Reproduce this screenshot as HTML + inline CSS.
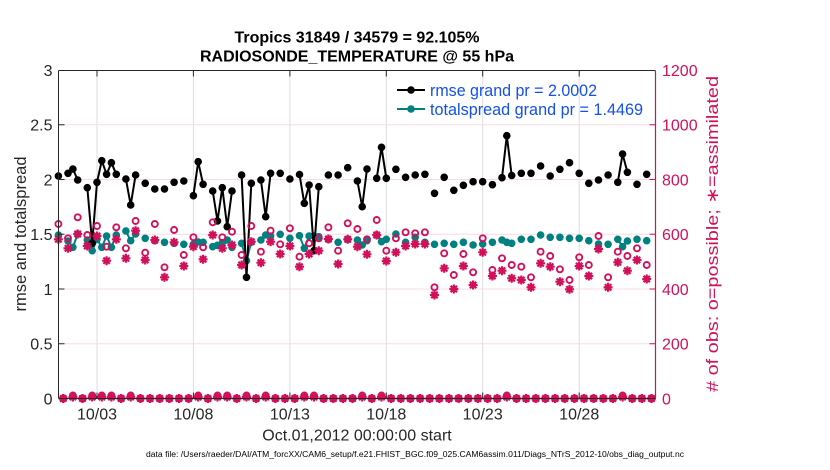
<!DOCTYPE html>
<html><head><meta charset="utf-8"><style>
html,body{margin:0;padding:0;background:#fff;}
svg{display:block;font-family:"Liberation Sans",Arial,sans-serif;}
</style></head><body>
<svg width="830" height="470" viewBox="0 0 830 470" xmlns="http://www.w3.org/2000/svg">
<rect width="830" height="470" fill="#fff"/>
<!-- gridlines -->
<g stroke="#dedede" stroke-width="1">
<line x1="97" y1="70" x2="97" y2="398.5"/><line x1="193.4" y1="70" x2="193.4" y2="398.5"/><line x1="289.9" y1="70" x2="289.9" y2="398.5"/><line x1="386.3" y1="70" x2="386.3" y2="398.5"/><line x1="482.7" y1="70" x2="482.7" y2="398.5"/><line x1="579.2" y1="70" x2="579.2" y2="398.5"/>
</g>
<g stroke="#f8dbe6" stroke-width="1">
<line x1="58.5" y1="124.75" x2="655.5" y2="124.75"/><line x1="58.5" y1="179.5" x2="655.5" y2="179.5"/><line x1="58.5" y1="234.25" x2="655.5" y2="234.25"/><line x1="58.5" y1="289" x2="655.5" y2="289"/><line x1="58.5" y1="343.75" x2="655.5" y2="343.75"/>
</g>

<!-- teal lines -->
<g fill="none" stroke="#008080" stroke-width="2" stroke-linejoin="round">
<polyline points="68,241 72.9,247.3 77.7,234"/>
<polyline points="87.3,240 92.2,250.7 97,239.3 101.8,247.3 106.6,236 111.4,247.3 116.3,235"/>
<polyline points="125.9,231 130.7,240.7 135.6,234"/>
<polyline points="193.4,244.3 198.2,242 203.1,242.3"/>
<polyline points="212.7,246.7 217.5,245.3 222.3,242.7 227.2,240 232,247.3"/>
<polyline points="241.6,243.3 246.5,260.7 251.3,242"/>
<polyline points="260.9,240 265.7,235 270.6,236"/>
<polyline points="299.5,235.7 304.3,248.3 309.1,236 314,236 318.8,236.7"/>
<polyline points="357.4,240 362.2,245 367,240.7"/>
<polyline points="376.7,235 381.5,241.7 386.3,239.3"/>
<polyline points="502,240 506.8,242.3 511.7,243.3"/>
<polyline points="617.8,239.3 622.6,246.7 627.4,241"/>
</g>
<path fill="none" stroke="#008080" stroke-width="7.6" stroke-linecap="round" d="M58.4 235h0M68 241h0M72.9 247.3h0M77.7 234h0M87.3 240h0M92.2 250.7h0M97 239.3h0M101.8 247.3h0M106.6 236h0M111.4 247.3h0M116.3 235h0M125.9 231h0M130.7 240.7h0M135.6 234h0M145.2 238.3h0M154.8 240.7h0M164.5 242.3h0M174.1 243.3h0M183.8 244.3h0M193.4 244.3h0M198.2 242h0M203.1 242.3h0M212.7 246.7h0M217.5 245.3h0M222.3 242.7h0M227.2 240h0M232 247.3h0M241.6 243.3h0M246.5 260.7h0M251.3 242h0M260.9 240h0M265.7 235h0M270.6 236h0M280.2 234.3h0M289.9 238.3h0M299.5 235.7h0M304.3 248.3h0M309.1 236h0M314 236h0M318.8 236.7h0M328.4 239.3h0M338.1 242.3h0M347.7 239.3h0M357.4 240h0M362.2 245h0M367 240.7h0M376.7 235h0M381.5 241.7h0M386.3 239.3h0M395.9 234h0M405.6 242.3h0M415.2 237.3h0M424.9 242.3h0M434.5 244.3h0M444.2 243.3h0M453.8 244.3h0M463.4 242.3h0M473.1 245h0M482.7 244h0M492.4 242.3h0M502 240h0M506.8 242.3h0M511.7 243.3h0M521.3 239.3h0M531 239.3h0M540.6 235h0M550.2 237.3h0M559.9 237.3h0M569.5 238.3h0M579.2 238.3h0M588.8 240.7h0M598.5 244h0M608.1 244.3h0M617.8 239.3h0M622.6 246.7h0M627.4 241h0M637 239.3h0M646.7 240.7h0"/>

<!-- black lines -->
<g fill="none" stroke="#000" stroke-width="2" stroke-linejoin="round">
<polyline points="68,173.3 72.9,169 77.7,180"/>
<polyline points="87.3,187.7 92.2,243.3 97,182.3 101.8,160.7 106.6,174.3 111.4,162.7 116.3,174.3"/>
<polyline points="125.9,179 130.7,205 135.6,175"/>
<polyline points="193.4,195.7 198.2,161.7 203.1,184.3"/>
<polyline points="212.7,191 217.5,221 222.3,187.7 227.2,226.7 232,191"/>
<polyline points="241.6,175 246.5,277.3 251.3,183.3"/>
<polyline points="260.9,180 265.7,216.7 270.6,173.3"/>
<polyline points="299.5,174.5 304.3,203.3 309.1,185 314,250.7 318.8,186.7"/>
<polyline points="357.4,181 362.2,206.7 367,169"/>
<polyline points="376.7,178.3 381.5,147.3 386.3,178.3"/>
<polyline points="502,177.7 506.8,135.7 511.7,175.5"/>
<polyline points="617.8,182.3 622.6,154 627.4,172.3"/>
</g>
<path fill="none" stroke="#000" stroke-width="7.6" stroke-linecap="round" d="M58.4 176h0M68 173.3h0M72.9 169h0M77.7 180h0M87.3 187.7h0M92.2 243.3h0M97 182.3h0M101.8 160.7h0M106.6 174.3h0M111.4 162.7h0M116.3 174.3h0M125.9 179h0M130.7 205h0M135.6 175h0M145.2 183.3h0M154.8 189h0M164.5 189h0M174.1 182.3h0M183.8 181h0M193.4 195.7h0M198.2 161.7h0M203.1 184.3h0M212.7 191h0M217.5 221h0M222.3 187.7h0M227.2 226.7h0M232 191h0M241.6 175h0M246.5 277.3h0M251.3 183.3h0M260.9 180h0M265.7 216.7h0M270.6 173.3h0M280.2 173.3h0M289.9 179h0M299.5 174.5h0M304.3 203.3h0M309.1 185h0M314 250.7h0M318.8 186.7h0M328.4 175h0M338.1 175h0M347.7 167.7h0M357.4 181h0M362.2 206.7h0M367 169h0M376.7 178.3h0M381.5 147.3h0M386.3 178.3h0M395.9 169.3h0M405.6 177.3h0M415.2 175h0M424.9 174.3h0M434.5 193.3h0M444.2 177.3h0M453.8 190.3h0M463.4 185.3h0M473.1 181.7h0M482.7 181.7h0M492.4 184.7h0M502 177.7h0M506.8 135.7h0M511.7 175.5h0M521.3 173.3h0M531 173.3h0M540.6 166h0M550.2 176h0M559.9 169.3h0M569.5 162.7h0M579.2 173.3h0M588.8 183.3h0M598.5 180h0M608.1 175h0M617.8 182.3h0M622.6 154h0M627.4 172.3h0M637 184.3h0M646.7 174.3h0"/>

<!-- pink circles (possible) -->
<g fill="none" stroke="#d1105a" stroke-width="1.9">
<circle cx="58.4" cy="224" r="3"/><circle cx="68" cy="238.3" r="3"/><circle cx="77.7" cy="217.3" r="3"/><circle cx="87.3" cy="235" r="3"/><circle cx="97" cy="226" r="3"/><circle cx="106.6" cy="246.7" r="3"/><circle cx="116.3" cy="227.3" r="3"/><circle cx="125.9" cy="248.3" r="3"/><circle cx="135.6" cy="221" r="3"/><circle cx="145.2" cy="252.7" r="3"/><circle cx="154.8" cy="224" r="3"/><circle cx="164.5" cy="267.3" r="3"/><circle cx="174.1" cy="230" r="3"/><circle cx="183.8" cy="255" r="3"/><circle cx="193.4" cy="237.3" r="3"/><circle cx="203.1" cy="247.3" r="3"/><circle cx="212.7" cy="222.3" r="3"/><circle cx="222.3" cy="237.3" r="3"/><circle cx="232" cy="231.7" r="3"/><circle cx="241.6" cy="255" r="3"/><circle cx="251.3" cy="226" r="3"/><circle cx="260.9" cy="251.7" r="3"/><circle cx="270.6" cy="230.7" r="3"/><circle cx="280.2" cy="244.3" r="3"/><circle cx="289.9" cy="228.3" r="3"/><circle cx="299.5" cy="256.7" r="3"/><circle cx="309.1" cy="243.3" r="3"/><circle cx="318.8" cy="238.3" r="3"/><circle cx="328.4" cy="227.3" r="3"/><circle cx="338.1" cy="250.7" r="3"/><circle cx="347.7" cy="223.3" r="3"/><circle cx="357.4" cy="229" r="3"/><circle cx="367" cy="239.3" r="3"/><circle cx="376.7" cy="220" r="3"/><circle cx="386.3" cy="250.7" r="3"/><circle cx="395.9" cy="238.3" r="3"/><circle cx="405.6" cy="232.3" r="3"/><circle cx="415.2" cy="233.3" r="3"/><circle cx="424.9" cy="232.3" r="3"/><circle cx="434.5" cy="287.3" r="3"/><circle cx="444.2" cy="253.3" r="3"/><circle cx="453.8" cy="275" r="3"/><circle cx="463.4" cy="254" r="3"/><circle cx="473.1" cy="272.3" r="3"/><circle cx="482.7" cy="238.3" r="3"/><circle cx="492.4" cy="270" r="3"/><circle cx="502" cy="258.3" r="3"/><circle cx="511.7" cy="265" r="3"/><circle cx="521.3" cy="266.7" r="3"/><circle cx="531" cy="277.3" r="3"/><circle cx="540.6" cy="251.7" r="3"/><circle cx="550.2" cy="256" r="3"/><circle cx="559.9" cy="269.3" r="3"/><circle cx="569.5" cy="280" r="3"/><circle cx="579.2" cy="257.3" r="3"/><circle cx="588.8" cy="265" r="3"/><circle cx="598.5" cy="236" r="3"/><circle cx="608.1" cy="277.3" r="3"/><circle cx="617.8" cy="251.7" r="3"/><circle cx="627.4" cy="256" r="3"/><circle cx="637" cy="248.3" r="3"/><circle cx="646.7" cy="265" r="3"/>
<!-- bottom row circles -->
<circle cx="63.2" cy="398.5" r="3"/><circle cx="72.9" cy="395.5" r="3"/><circle cx="82.5" cy="398.5" r="3"/><circle cx="92.2" cy="395.5" r="3"/><circle cx="101.8" cy="395.5" r="3"/><circle cx="111.4" cy="395.5" r="3"/><circle cx="121.1" cy="398.5" r="3"/><circle cx="130.7" cy="395.5" r="3"/><circle cx="140.4" cy="398.5" r="3"/><circle cx="150" cy="398.5" r="3"/><circle cx="159.7" cy="398.5" r="3"/><circle cx="169.3" cy="398.5" r="3"/><circle cx="179" cy="398.5" r="3"/><circle cx="188.6" cy="398.5" r="3"/><circle cx="198.2" cy="395.5" r="3"/><circle cx="207.9" cy="398.5" r="3"/><circle cx="217.5" cy="395.5" r="3"/><circle cx="227.2" cy="395.5" r="3"/><circle cx="236.8" cy="398.5" r="3"/><circle cx="246.5" cy="395.5" r="3"/><circle cx="256.1" cy="398.5" r="3"/><circle cx="265.7" cy="395.5" r="3"/><circle cx="275.4" cy="398.5" r="3"/><circle cx="285" cy="398.5" r="3"/><circle cx="294.7" cy="398.5" r="3"/><circle cx="304.3" cy="395.5" r="3"/><circle cx="314" cy="395.5" r="3"/><circle cx="323.6" cy="398.5" r="3"/><circle cx="333.3" cy="398.5" r="3"/><circle cx="342.9" cy="398.5" r="3"/><circle cx="352.5" cy="398.5" r="3"/><circle cx="362.2" cy="395.5" r="3"/><circle cx="371.8" cy="398.5" r="3"/><circle cx="381.5" cy="395.5" r="3"/><circle cx="391.1" cy="398.5" r="3"/><circle cx="400.8" cy="398.5" r="3"/><circle cx="410.4" cy="398.5" r="3"/><circle cx="420.1" cy="398.5" r="3"/><circle cx="429.7" cy="398.5" r="3"/><circle cx="439.3" cy="398.5" r="3"/><circle cx="449" cy="398.5" r="3"/><circle cx="458.6" cy="398.5" r="3"/><circle cx="468.3" cy="398.5" r="3"/><circle cx="477.9" cy="398.5" r="3"/><circle cx="487.6" cy="398.5" r="3"/><circle cx="497.2" cy="398.5" r="3"/><circle cx="506.8" cy="395.5" r="3"/><circle cx="516.5" cy="398.5" r="3"/><circle cx="526.1" cy="398.5" r="3"/><circle cx="535.8" cy="398.5" r="3"/><circle cx="545.4" cy="398.5" r="3"/><circle cx="555.1" cy="398.5" r="3"/><circle cx="564.7" cy="398.5" r="3"/><circle cx="574.4" cy="398.5" r="3"/><circle cx="584" cy="398.5" r="3"/><circle cx="593.6" cy="398.5" r="3"/><circle cx="603.3" cy="398.5" r="3"/><circle cx="612.9" cy="398.5" r="3"/><circle cx="622.6" cy="395.5" r="3"/><circle cx="632.2" cy="398.5" r="3"/><circle cx="641.9" cy="398.5" r="3"/><circle cx="651.5" cy="398.5" r="3"/>
</g>

<!-- pink asterisks (assimilated) -->
<path fill="none" stroke="#d1105a" stroke-width="2.2" d="M58.4 239.3m-4.5 0h9m-4.5-4.5v9m-3.2-7.7l6.4 6.4m-6.4 0l6.4-6.4M68 248.3m-4.5 0h9m-4.5-4.5v9m-3.2-7.7l6.4 6.4m-6.4 0l6.4-6.4M77.7 234m-4.5 0h9m-4.5-4.5v9m-3.2-7.7l6.4 6.4m-6.4 0l6.4-6.4M87.3 246m-4.5 0h9m-4.5-4.5v9m-3.2-7.7l6.4 6.4m-6.4 0l6.4-6.4M97 236m-4.5 0h9m-4.5-4.5v9m-3.2-7.7l6.4 6.4m-6.4 0l6.4-6.4M106.6 260.7m-4.5 0h9m-4.5-4.5v9m-3.2-7.7l6.4 6.4m-6.4 0l6.4-6.4M116.3 239.3m-4.5 0h9m-4.5-4.5v9m-3.2-7.7l6.4 6.4m-6.4 0l6.4-6.4M125.9 258.3m-4.5 0h9m-4.5-4.5v9m-3.2-7.7l6.4 6.4m-6.4 0l6.4-6.4M135.6 230.7m-4.5 0h9m-4.5-4.5v9m-3.2-7.7l6.4 6.4m-6.4 0l6.4-6.4M145.2 260m-4.5 0h9m-4.5-4.5v9m-3.2-7.7l6.4 6.4m-6.4 0l6.4-6.4M154.8 240m-4.5 0h9m-4.5-4.5v9m-3.2-7.7l6.4 6.4m-6.4 0l6.4-6.4M164.5 277.3m-4.5 0h9m-4.5-4.5v9m-3.2-7.7l6.4 6.4m-6.4 0l6.4-6.4M174.1 242.3m-4.5 0h9m-4.5-4.5v9m-3.2-7.7l6.4 6.4m-6.4 0l6.4-6.4M183.8 266m-4.5 0h9m-4.5-4.5v9m-3.2-7.7l6.4 6.4m-6.4 0l6.4-6.4M193.4 246.7m-4.5 0h9m-4.5-4.5v9m-3.2-7.7l6.4 6.4m-6.4 0l6.4-6.4M203.1 259.3m-4.5 0h9m-4.5-4.5v9m-3.2-7.7l6.4 6.4m-6.4 0l6.4-6.4M212.7 235m-4.5 0h9m-4.5-4.5v9m-3.2-7.7l6.4 6.4m-6.4 0l6.4-6.4M222.3 248.3m-4.5 0h9m-4.5-4.5v9m-3.2-7.7l6.4 6.4m-6.4 0l6.4-6.4M232 245m-4.5 0h9m-4.5-4.5v9m-3.2-7.7l6.4 6.4m-6.4 0l6.4-6.4M241.6 265m-4.5 0h9m-4.5-4.5v9m-3.2-7.7l6.4 6.4m-6.4 0l6.4-6.4M251.3 241.7m-4.5 0h9m-4.5-4.5v9m-3.2-7.7l6.4 6.4m-6.4 0l6.4-6.4M260.9 262.7m-4.5 0h9m-4.5-4.5v9m-3.2-7.7l6.4 6.4m-6.4 0l6.4-6.4M270.6 241.7m-4.5 0h9m-4.5-4.5v9m-3.2-7.7l6.4 6.4m-6.4 0l6.4-6.4M280.2 254m-4.5 0h9m-4.5-4.5v9m-3.2-7.7l6.4 6.4m-6.4 0l6.4-6.4M289.9 246m-4.5 0h9m-4.5-4.5v9m-3.2-7.7l6.4 6.4m-6.4 0l6.4-6.4M299.5 266.7m-4.5 0h9m-4.5-4.5v9m-3.2-7.7l6.4 6.4m-6.4 0l6.4-6.4M309.1 254m-4.5 0h9m-4.5-4.5v9m-3.2-7.7l6.4 6.4m-6.4 0l6.4-6.4M318.8 250.7m-4.5 0h9m-4.5-4.5v9m-3.2-7.7l6.4 6.4m-6.4 0l6.4-6.4M328.4 239m-4.5 0h9m-4.5-4.5v9m-3.2-7.7l6.4 6.4m-6.4 0l6.4-6.4M338.1 264m-4.5 0h9m-4.5-4.5v9m-3.2-7.7l6.4 6.4m-6.4 0l6.4-6.4M347.7 239.3m-4.5 0h9m-4.5-4.5v9m-3.2-7.7l6.4 6.4m-6.4 0l6.4-6.4M357.4 246.7m-4.5 0h9m-4.5-4.5v9m-3.2-7.7l6.4 6.4m-6.4 0l6.4-6.4M367 254.3m-4.5 0h9m-4.5-4.5v9m-3.2-7.7l6.4 6.4m-6.4 0l6.4-6.4M376.7 235m-4.5 0h9m-4.5-4.5v9m-3.2-7.7l6.4 6.4m-6.4 0l6.4-6.4M386.3 261m-4.5 0h9m-4.5-4.5v9m-3.2-7.7l6.4 6.4m-6.4 0l6.4-6.4M395.9 252.3m-4.5 0h9m-4.5-4.5v9m-3.2-7.7l6.4 6.4m-6.4 0l6.4-6.4M405.6 246m-4.5 0h9m-4.5-4.5v9m-3.2-7.7l6.4 6.4m-6.4 0l6.4-6.4M415.2 244m-4.5 0h9m-4.5-4.5v9m-3.2-7.7l6.4 6.4m-6.4 0l6.4-6.4M424.9 244m-4.5 0h9m-4.5-4.5v9m-3.2-7.7l6.4 6.4m-6.4 0l6.4-6.4M434.5 295m-4.5 0h9m-4.5-4.5v9m-3.2-7.7l6.4 6.4m-6.4 0l6.4-6.4M444.2 268.3m-4.5 0h9m-4.5-4.5v9m-3.2-7.7l6.4 6.4m-6.4 0l6.4-6.4M453.8 289m-4.5 0h9m-4.5-4.5v9m-3.2-7.7l6.4 6.4m-6.4 0l6.4-6.4M463.4 266m-4.5 0h9m-4.5-4.5v9m-3.2-7.7l6.4 6.4m-6.4 0l6.4-6.4M473.1 285m-4.5 0h9m-4.5-4.5v9m-3.2-7.7l6.4 6.4m-6.4 0l6.4-6.4M482.7 252.3m-4.5 0h9m-4.5-4.5v9m-3.2-7.7l6.4 6.4m-6.4 0l6.4-6.4M492.4 276m-4.5 0h9m-4.5-4.5v9m-3.2-7.7l6.4 6.4m-6.4 0l6.4-6.4M502 270.7m-4.5 0h9m-4.5-4.5v9m-3.2-7.7l6.4 6.4m-6.4 0l6.4-6.4M511.7 278.3m-4.5 0h9m-4.5-4.5v9m-3.2-7.7l6.4 6.4m-6.4 0l6.4-6.4M521.3 280m-4.5 0h9m-4.5-4.5v9m-3.2-7.7l6.4 6.4m-6.4 0l6.4-6.4M531 287.3m-4.5 0h9m-4.5-4.5v9m-3.2-7.7l6.4 6.4m-6.4 0l6.4-6.4M540.6 263.3m-4.5 0h9m-4.5-4.5v9m-3.2-7.7l6.4 6.4m-6.4 0l6.4-6.4M550.2 266.7m-4.5 0h9m-4.5-4.5v9m-3.2-7.7l6.4 6.4m-6.4 0l6.4-6.4M559.9 281.7m-4.5 0h9m-4.5-4.5v9m-3.2-7.7l6.4 6.4m-6.4 0l6.4-6.4M569.5 289.3m-4.5 0h9m-4.5-4.5v9m-3.2-7.7l6.4 6.4m-6.4 0l6.4-6.4M579.2 266m-4.5 0h9m-4.5-4.5v9m-3.2-7.7l6.4 6.4m-6.4 0l6.4-6.4M588.8 276m-4.5 0h9m-4.5-4.5v9m-3.2-7.7l6.4 6.4m-6.4 0l6.4-6.4M598.5 249m-4.5 0h9m-4.5-4.5v9m-3.2-7.7l6.4 6.4m-6.4 0l6.4-6.4M608.1 287.3m-4.5 0h9m-4.5-4.5v9m-3.2-7.7l6.4 6.4m-6.4 0l6.4-6.4M617.8 262.3m-4.5 0h9m-4.5-4.5v9m-3.2-7.7l6.4 6.4m-6.4 0l6.4-6.4M627.4 270.7m-4.5 0h9m-4.5-4.5v9m-3.2-7.7l6.4 6.4m-6.4 0l6.4-6.4M637 260m-4.5 0h9m-4.5-4.5v9m-3.2-7.7l6.4 6.4m-6.4 0l6.4-6.4M646.7 279m-4.5 0h9m-4.5-4.5v9m-3.2-7.7l6.4 6.4m-6.4 0l6.4-6.4"/>
<path fill="none" stroke="#d1105a" stroke-width="2.2" d="M63.2 398.5m-4.5 0h9m-4.5-4.5v9m-3.2-7.7l6.4 6.4m-6.4 0l6.4-6.4M72.9 397m-4.5 0h9m-4.5-4.5v9m-3.2-7.7l6.4 6.4m-6.4 0l6.4-6.4M82.5 398.5m-4.5 0h9m-4.5-4.5v9m-3.2-7.7l6.4 6.4m-6.4 0l6.4-6.4M92.2 397m-4.5 0h9m-4.5-4.5v9m-3.2-7.7l6.4 6.4m-6.4 0l6.4-6.4M101.8 397m-4.5 0h9m-4.5-4.5v9m-3.2-7.7l6.4 6.4m-6.4 0l6.4-6.4M111.4 397m-4.5 0h9m-4.5-4.5v9m-3.2-7.7l6.4 6.4m-6.4 0l6.4-6.4M121.1 398.5m-4.5 0h9m-4.5-4.5v9m-3.2-7.7l6.4 6.4m-6.4 0l6.4-6.4M130.7 397m-4.5 0h9m-4.5-4.5v9m-3.2-7.7l6.4 6.4m-6.4 0l6.4-6.4M140.4 398.5m-4.5 0h9m-4.5-4.5v9m-3.2-7.7l6.4 6.4m-6.4 0l6.4-6.4M150 398.5m-4.5 0h9m-4.5-4.5v9m-3.2-7.7l6.4 6.4m-6.4 0l6.4-6.4M159.7 398.5m-4.5 0h9m-4.5-4.5v9m-3.2-7.7l6.4 6.4m-6.4 0l6.4-6.4M169.3 398.5m-4.5 0h9m-4.5-4.5v9m-3.2-7.7l6.4 6.4m-6.4 0l6.4-6.4M179 398.5m-4.5 0h9m-4.5-4.5v9m-3.2-7.7l6.4 6.4m-6.4 0l6.4-6.4M188.6 398.5m-4.5 0h9m-4.5-4.5v9m-3.2-7.7l6.4 6.4m-6.4 0l6.4-6.4M198.2 397m-4.5 0h9m-4.5-4.5v9m-3.2-7.7l6.4 6.4m-6.4 0l6.4-6.4M207.9 398.5m-4.5 0h9m-4.5-4.5v9m-3.2-7.7l6.4 6.4m-6.4 0l6.4-6.4M217.5 397m-4.5 0h9m-4.5-4.5v9m-3.2-7.7l6.4 6.4m-6.4 0l6.4-6.4M227.2 397m-4.5 0h9m-4.5-4.5v9m-3.2-7.7l6.4 6.4m-6.4 0l6.4-6.4M236.8 398.5m-4.5 0h9m-4.5-4.5v9m-3.2-7.7l6.4 6.4m-6.4 0l6.4-6.4M246.5 397m-4.5 0h9m-4.5-4.5v9m-3.2-7.7l6.4 6.4m-6.4 0l6.4-6.4M256.1 398.5m-4.5 0h9m-4.5-4.5v9m-3.2-7.7l6.4 6.4m-6.4 0l6.4-6.4M265.7 397m-4.5 0h9m-4.5-4.5v9m-3.2-7.7l6.4 6.4m-6.4 0l6.4-6.4M275.4 398.5m-4.5 0h9m-4.5-4.5v9m-3.2-7.7l6.4 6.4m-6.4 0l6.4-6.4M285 398.5m-4.5 0h9m-4.5-4.5v9m-3.2-7.7l6.4 6.4m-6.4 0l6.4-6.4M294.7 398.5m-4.5 0h9m-4.5-4.5v9m-3.2-7.7l6.4 6.4m-6.4 0l6.4-6.4M304.3 397m-4.5 0h9m-4.5-4.5v9m-3.2-7.7l6.4 6.4m-6.4 0l6.4-6.4M314 397m-4.5 0h9m-4.5-4.5v9m-3.2-7.7l6.4 6.4m-6.4 0l6.4-6.4M323.6 398.5m-4.5 0h9m-4.5-4.5v9m-3.2-7.7l6.4 6.4m-6.4 0l6.4-6.4M333.3 398.5m-4.5 0h9m-4.5-4.5v9m-3.2-7.7l6.4 6.4m-6.4 0l6.4-6.4M342.9 398.5m-4.5 0h9m-4.5-4.5v9m-3.2-7.7l6.4 6.4m-6.4 0l6.4-6.4M352.5 398.5m-4.5 0h9m-4.5-4.5v9m-3.2-7.7l6.4 6.4m-6.4 0l6.4-6.4M362.2 397m-4.5 0h9m-4.5-4.5v9m-3.2-7.7l6.4 6.4m-6.4 0l6.4-6.4M371.8 398.5m-4.5 0h9m-4.5-4.5v9m-3.2-7.7l6.4 6.4m-6.4 0l6.4-6.4M381.5 397m-4.5 0h9m-4.5-4.5v9m-3.2-7.7l6.4 6.4m-6.4 0l6.4-6.4M391.1 398.5m-4.5 0h9m-4.5-4.5v9m-3.2-7.7l6.4 6.4m-6.4 0l6.4-6.4M400.8 398.5m-4.5 0h9m-4.5-4.5v9m-3.2-7.7l6.4 6.4m-6.4 0l6.4-6.4M410.4 398.5m-4.5 0h9m-4.5-4.5v9m-3.2-7.7l6.4 6.4m-6.4 0l6.4-6.4M420.1 398.5m-4.5 0h9m-4.5-4.5v9m-3.2-7.7l6.4 6.4m-6.4 0l6.4-6.4M429.7 398.5m-4.5 0h9m-4.5-4.5v9m-3.2-7.7l6.4 6.4m-6.4 0l6.4-6.4M439.3 398.5m-4.5 0h9m-4.5-4.5v9m-3.2-7.7l6.4 6.4m-6.4 0l6.4-6.4M449 398.5m-4.5 0h9m-4.5-4.5v9m-3.2-7.7l6.4 6.4m-6.4 0l6.4-6.4M458.6 398.5m-4.5 0h9m-4.5-4.5v9m-3.2-7.7l6.4 6.4m-6.4 0l6.4-6.4M468.3 398.5m-4.5 0h9m-4.5-4.5v9m-3.2-7.7l6.4 6.4m-6.4 0l6.4-6.4M477.9 398.5m-4.5 0h9m-4.5-4.5v9m-3.2-7.7l6.4 6.4m-6.4 0l6.4-6.4M487.6 398.5m-4.5 0h9m-4.5-4.5v9m-3.2-7.7l6.4 6.4m-6.4 0l6.4-6.4M497.2 398.5m-4.5 0h9m-4.5-4.5v9m-3.2-7.7l6.4 6.4m-6.4 0l6.4-6.4M506.8 397m-4.5 0h9m-4.5-4.5v9m-3.2-7.7l6.4 6.4m-6.4 0l6.4-6.4M516.5 398.5m-4.5 0h9m-4.5-4.5v9m-3.2-7.7l6.4 6.4m-6.4 0l6.4-6.4M526.1 398.5m-4.5 0h9m-4.5-4.5v9m-3.2-7.7l6.4 6.4m-6.4 0l6.4-6.4M535.8 398.5m-4.5 0h9m-4.5-4.5v9m-3.2-7.7l6.4 6.4m-6.4 0l6.4-6.4M545.4 398.5m-4.5 0h9m-4.5-4.5v9m-3.2-7.7l6.4 6.4m-6.4 0l6.4-6.4M555.1 398.5m-4.5 0h9m-4.5-4.5v9m-3.2-7.7l6.4 6.4m-6.4 0l6.4-6.4M564.7 398.5m-4.5 0h9m-4.5-4.5v9m-3.2-7.7l6.4 6.4m-6.4 0l6.4-6.4M574.4 398.5m-4.5 0h9m-4.5-4.5v9m-3.2-7.7l6.4 6.4m-6.4 0l6.4-6.4M584 398.5m-4.5 0h9m-4.5-4.5v9m-3.2-7.7l6.4 6.4m-6.4 0l6.4-6.4M593.6 398.5m-4.5 0h9m-4.5-4.5v9m-3.2-7.7l6.4 6.4m-6.4 0l6.4-6.4M603.3 398.5m-4.5 0h9m-4.5-4.5v9m-3.2-7.7l6.4 6.4m-6.4 0l6.4-6.4M612.9 398.5m-4.5 0h9m-4.5-4.5v9m-3.2-7.7l6.4 6.4m-6.4 0l6.4-6.4M622.6 397m-4.5 0h9m-4.5-4.5v9m-3.2-7.7l6.4 6.4m-6.4 0l6.4-6.4M632.2 398.5m-4.5 0h9m-4.5-4.5v9m-3.2-7.7l6.4 6.4m-6.4 0l6.4-6.4M641.9 398.5m-4.5 0h9m-4.5-4.5v9m-3.2-7.7l6.4 6.4m-6.4 0l6.4-6.4M651.5 398.5m-4.5 0h9m-4.5-4.5v9m-3.2-7.7l6.4 6.4m-6.4 0l6.4-6.4"/>

<!-- axes box -->
<g stroke-width="1" fill="none">
<line x1="58.5" y1="70.5" x2="655.5" y2="70.5" stroke="#262626"/>
<line x1="58.5" y1="398.5" x2="655.5" y2="398.5" stroke="#262626"/>
<line x1="58.5" y1="70.5" x2="58.5" y2="398.5" stroke="#262626"/>
<line x1="655.5" y1="70.5" x2="655.5" y2="398.5" stroke="#d1105a" stroke-width="1.2"/>
</g>
<!-- ticks -->
<g stroke="#262626" stroke-width="1">
<line x1="58.5" y1="124.75" x2="64.5" y2="124.75"/><line x1="58.5" y1="179.5" x2="64.5" y2="179.5"/><line x1="58.5" y1="234.25" x2="64.5" y2="234.25"/><line x1="58.5" y1="289" x2="64.5" y2="289"/><line x1="58.5" y1="343.75" x2="64.5" y2="343.75"/>
<line x1="97" y1="398.5" x2="97" y2="392.5"/><line x1="193.4" y1="398.5" x2="193.4" y2="392.5"/><line x1="289.9" y1="398.5" x2="289.9" y2="392.5"/><line x1="386.3" y1="398.5" x2="386.3" y2="392.5"/><line x1="482.7" y1="398.5" x2="482.7" y2="392.5"/><line x1="579.2" y1="398.5" x2="579.2" y2="392.5"/>
<line x1="97" y1="70.5" x2="97" y2="76.5"/><line x1="193.4" y1="70.5" x2="193.4" y2="76.5"/><line x1="289.9" y1="70.5" x2="289.9" y2="76.5"/><line x1="386.3" y1="70.5" x2="386.3" y2="76.5"/><line x1="482.7" y1="70.5" x2="482.7" y2="76.5"/><line x1="579.2" y1="70.5" x2="579.2" y2="76.5"/>
</g>
<g stroke="#d1105a" stroke-width="1">
<line x1="655.5" y1="124.75" x2="649.5" y2="124.75"/><line x1="655.5" y1="179.5" x2="649.5" y2="179.5"/><line x1="655.5" y1="234.25" x2="649.5" y2="234.25"/><line x1="655.5" y1="289" x2="649.5" y2="289"/><line x1="655.5" y1="343.75" x2="649.5" y2="343.75"/>
</g>

<!-- left tick labels -->
<g font-size="16" fill="#262626" text-anchor="end">
<text x="52.5" y="76">3</text><text x="52.5" y="130.5">2.5</text><text x="52.5" y="185.3">2</text><text x="52.5" y="240">1.5</text><text x="52.5" y="294.8">1</text><text x="52.5" y="349.5">0.5</text><text x="52.5" y="404.3">0</text>
</g>
<!-- right tick labels -->
<g font-size="16" fill="#d1105a" text-anchor="start">
<text x="662" y="76">1200</text><text x="662" y="130.5">1000</text><text x="662" y="185.3">800</text><text x="662" y="240">600</text><text x="662" y="294.8">400</text><text x="662" y="349.5">200</text><text x="662" y="404.3">0</text>
</g>
<!-- x tick labels -->
<g font-size="16" fill="#262626" text-anchor="middle">
<text x="97" y="419.5">10/03</text><text x="193.4" y="419.5">10/08</text><text x="289.9" y="419.5">10/13</text><text x="386.3" y="419.5">10/18</text><text x="482.7" y="419.5">10/23</text><text x="579.2" y="419.5">10/28</text>
</g>
<text x="357" y="440.5" font-size="16" fill="#262626" text-anchor="middle">Oct.01,2012 00:00:00 start</text>
<text x="146" y="457" font-size="8" fill="#000" textLength="538" lengthAdjust="spacingAndGlyphs">data file: /Users/raeder/DAI/ATM_forcXX/CAM6_setup/f.e21.FHIST_BGC.f09_025.CAM6assim.011/Diags_NTrS_2012-10/obs_diag_output.nc</text>

<!-- axis labels -->
<text transform="translate(26,234) rotate(-90)" font-size="16.5" fill="#262626" text-anchor="middle">rmse and totalspread</text>
<text transform="translate(718,234) rotate(-90)" font-size="16.5" fill="#d1105a" text-anchor="middle" textLength="316" lengthAdjust="spacingAndGlyphs"># of obs: o=possible; ∗=assimilated</text>

<!-- title -->
<g font-size="16" font-weight="bold" fill="#000" text-anchor="middle">
<text x="357" y="42.5">Tropics 31849 / 34579 = 92.105%</text>
<text x="357" y="61.5">RADIOSONDE_TEMPERATURE @ 55 hPa</text>
</g>

<!-- legend -->
<line x1="397" y1="90" x2="425" y2="90" stroke="#000" stroke-width="2"/>
<circle cx="411" cy="90" r="3.8" fill="#000"/>
<line x1="397" y1="109" x2="425" y2="109" stroke="#008080" stroke-width="2"/>
<circle cx="411" cy="109" r="3.8" fill="#008080"/>
<g font-size="16.5" fill="#1450f0">
<text x="430" y="96" textLength="167" lengthAdjust="spacingAndGlyphs">rmse grand pr = 2.0002</text>
<text x="430" y="115" textLength="213" lengthAdjust="spacingAndGlyphs">totalspread grand pr = 1.4469</text>
</g>
</svg>
</body></html>
